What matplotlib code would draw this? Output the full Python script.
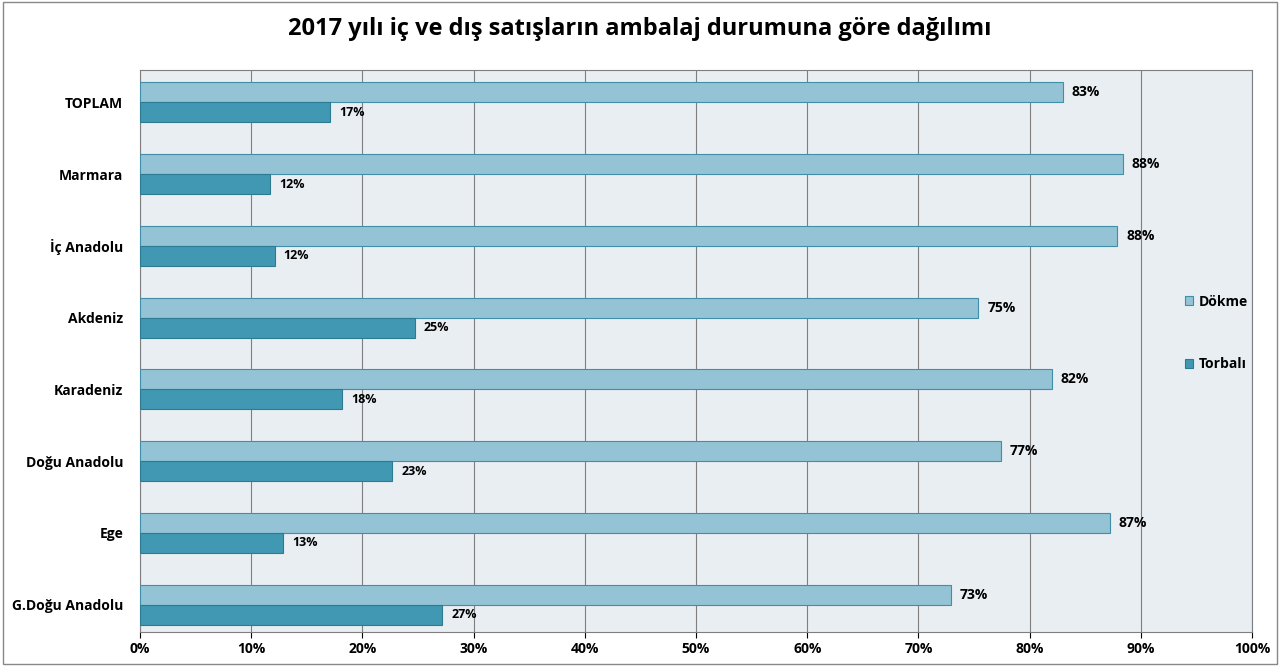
import matplotlib
matplotlib.use('Agg')
import matplotlib.pyplot as plt
import numpy as np

categories = ['TOPLAM', 'Marmara', 'İç Anadolu', 'Akdeniz', 'Karadeniz',
              'Doğu Anadolu', 'Ege', 'G.Doğu Anadolu']
dokme = [83.0, 88.4, 87.9, 75.4, 82.0, 77.4, 87.2, 72.9]
torbali = [17.1, 11.7, 12.1, 24.7, 18.2, 22.7, 12.9, 27.2]
dokme_labels = ['83%', '88%', '88%', '75%', '82%', '77%', '87%', '73%']
torbali_labels = ['17%', '12%', '12%', '25%', '18%', '23%', '13%', '27%']

plt.rcParams['font.family'] = 'Open Sans'

fig = plt.figure(figsize=(12.8, 6.66), dpi=100)
ax = fig.add_axes([140 / 1280, 34 / 666, 1112 / 1280, 562 / 666])
fig.patches.append(plt.Rectangle((0.002, 0.003), 0.996, 0.994, transform=fig.transFigure,
                                 fill=False, edgecolor='#888888', linewidth=1))

y = np.arange(len(categories))
h = 0.28
b1 = ax.barh(y - h / 2, dokme, height=h, color='#93C3D5', edgecolor='#3F8FA8',
             linewidth=0.8, label='Dökme', zorder=3)
b2 = ax.barh(y + h / 2, torbali, height=h, color='#4198B3', edgecolor='#2E7A92',
             linewidth=0.8, label='Torbalı', zorder=3)
for rect, lab in zip(b1, dokme_labels):
    ax.text(rect.get_width() + 0.8, rect.get_y() + rect.get_height() / 2, lab,
            va='center', ha='left', fontsize=10, fontweight='bold')
for rect, lab in zip(b2, torbali_labels):
    ax.text(rect.get_width() + 0.8, rect.get_y() + rect.get_height() / 2, lab,
            va='center', ha='left', fontsize=9, fontweight='bold')

ax.set_xlim(0, 100)
ax.set_ylim(len(categories) - 0.62, -0.45)
ax.set_xticks(np.arange(0, 101, 10))
ax.set_xticklabels([f'{v}%' for v in range(0, 101, 10)], fontsize=10, fontweight='bold')
ax.set_yticks(y)
ax.set_yticklabels(categories, fontsize=10, fontweight='bold')
ax.tick_params(axis='y', length=0, pad=12)
ax.tick_params(axis='x', length=4)
ax.set_facecolor('#E8EEF2')
ax.grid(axis='x', color='#7F7F7F', linewidth=0.8, zorder=0)
for s in ['top', 'right', 'left', 'bottom']:
    ax.spines[s].set_color('#7F7F7F')

fig.suptitle('2017 yılı iç ve dış satışların ambalaj durumuna göre dağılımı',
             fontsize=17, fontweight='bold', y=0.975)
fig.legend(handles=[b1, b2], loc='center left', bbox_to_anchor=(1172 / 1280, 0.5),
           frameon=False, fontsize=10, prop={'weight': 'bold'}, labelspacing=3.5,
           handlelength=0.6, handleheight=0.6, handletextpad=0.4)

fig.savefig('out.png', dpi=100)
plt.close(fig)
